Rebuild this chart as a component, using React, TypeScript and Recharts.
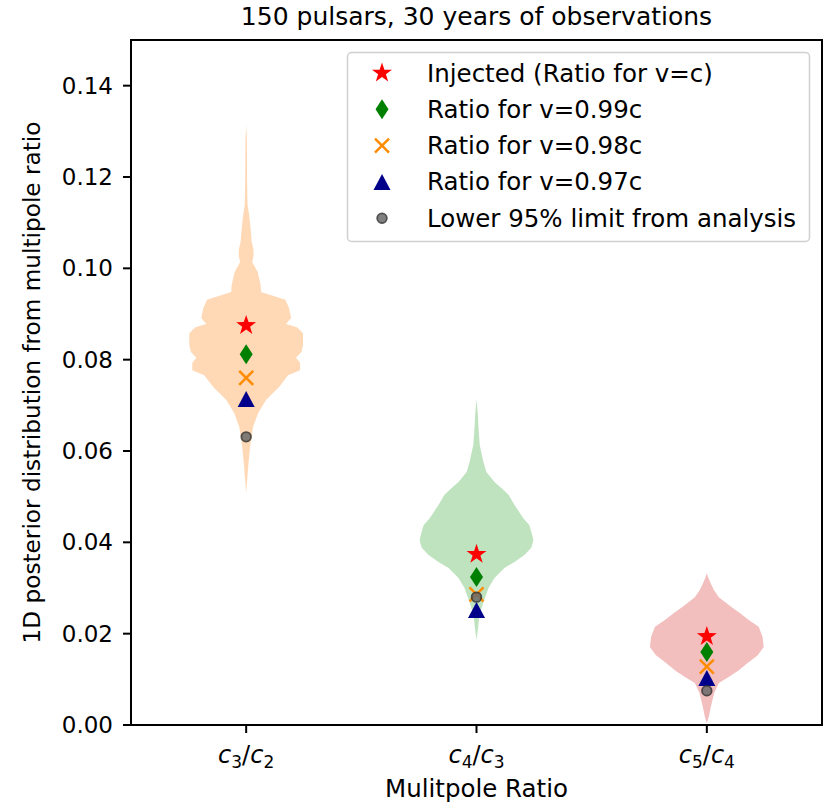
import React from 'react';
import {
  ComposedChart,
  Area,
  Scatter,
  XAxis,
  YAxis,
  ReferenceArea,
  Label
} from 'recharts';

const FONT = '"DejaVu Sans", sans-serif';

// categories (violin positions on the x axis)
const positions = [1, 2, 3];
const tickSubs = [
  ['3', '2'],
  ['4', '3'],
  ['5', '4']
];
const yTicks = [0, 0.02, 0.04, 0.06, 0.08, 0.1, 0.12, 0.14];

// marker values per ratio
const injected = [0.0875, 0.0374, 0.0194];
const ratio099 = [0.0812, 0.0324, 0.016];
const ratio098 = [0.076, 0.0286, 0.0128];
const ratio097 = [0.0714, 0.0252, 0.0103];
const lower95 = [0.0631, 0.028, 0.0075];

// violin outlines: y value and half width (x units)
const violin1Y = [0.0508, 0.0565, 0.0609, 0.0653, 0.0683, 0.0712, 0.074, 0.0766, 0.0777, 0.0793, 0.0804, 0.0817, 0.0832, 0.0858, 0.0871, 0.0878, 0.0891, 0.0913, 0.0931, 0.0948, 0.0963, 0.0992, 0.1014, 0.1027, 0.104, 0.1058, 0.1084, 0.1117, 0.1139, 0.1193, 0.1281, 0.1314];
const violin1W = [0, 0.0087, 0.017, 0.03, 0.052, 0.087, 0.143, 0.182, 0.234, 0.234, 0.216, 0.24, 0.247, 0.247, 0.22, 0.173, 0.195, 0.186, 0.17, 0.065, 0.063, 0.05, 0.026, 0.032, 0.032, 0.024, 0.02, 0.013, 0.006, 0.004, 0.003, 0];

const violin2Y = [0.0186, 0.0212, 0.0241, 0.0269, 0.03, 0.0322, 0.0344, 0.0357, 0.0372, 0.0388, 0.0405, 0.0423, 0.0438, 0.0453, 0.0482, 0.0504, 0.0519, 0.0532, 0.0554, 0.0576, 0.0613, 0.065, 0.0685, 0.0712];
const violin2W = [0, 0.0065, 0.013, 0.03, 0.052, 0.078, 0.121, 0.165, 0.208, 0.238, 0.247, 0.238, 0.229, 0.203, 0.165, 0.139, 0.108, 0.078, 0.043, 0.03, 0.014, 0.0087, 0.005, 0];

const violin3Y = [0.0004, 0.0018, 0.0039, 0.007, 0.0092, 0.0105, 0.012, 0.0136, 0.0153, 0.0171, 0.0193, 0.0215, 0.023, 0.0245, 0.0258, 0.028, 0.0296, 0.031, 0.0322, 0.0332];
const violin3W = [0, 0.0087, 0.017, 0.032, 0.052, 0.095, 0.139, 0.177, 0.221, 0.247, 0.242, 0.225, 0.182, 0.143, 0.108, 0.052, 0.03, 0.017, 0.007, 0];

const violinRows = (pos: number, ys: number[], ws: number[]) =>
  ys.map((y, i) => ({ y, band: [pos - ws[i], pos + ws[i]] }));

const violins = [
  { data: violinRows(positions[0], violin1Y, violin1W), color: '#ff7f0e' },
  { data: violinRows(positions[1], violin2Y, violin2W), color: '#2ca02c' },
  { data: violinRows(positions[2], violin3Y, violin3W), color: '#d62728' }
];

const points = (vals: number[]) => vals.map((y, i) => ({ x: positions[i], y }));

const Star = ({ cx, cy }: any) => {
  const pts: string[] = [];
  for (let i = 0; i < 10; i++) {
    const r = i % 2 === 0 ? 10.5 : 4.1;
    const a = -Math.PI / 2 + (i * Math.PI) / 5;
    pts.push(`${cx + r * Math.cos(a)},${cy + r * Math.sin(a)}`);
  }
  return <polygon points={pts.join(' ')} fill="#ff0000" />;
};

const Diamond = ({ cx, cy }: any) => (
  <polygon
    points={`${cx},${cy - 10} ${cx + 6.5},${cy} ${cx},${cy + 10} ${cx - 6.5},${cy}`}
    fill="#008000"
  />
);

const Cross = ({ cx, cy }: any) => (
  <g stroke="#ff8c00" strokeWidth={2.5}>
    <line x1={cx - 7} y1={cy - 7} x2={cx + 7} y2={cy + 7} />
    <line x1={cx - 7} y1={cy + 7} x2={cx + 7} y2={cy - 7} />
  </g>
);

const Triangle = ({ cx, cy }: any) => (
  <polygon
    points={`${cx},${cy - 8} ${cx + 8.5},${cy + 8} ${cx - 8.5},${cy + 8}`}
    fill="#00008b"
  />
);

const Dot = ({ cx, cy }: any) => (
  <circle cx={cx} cy={cy} r={4.8} fill="#6a6a6a" stroke="#333" strokeWidth={1.8} opacity={0.85} />
);

const legendItems = [
  { label: 'Injected (Ratio for v=c)', Mark: Star },
  { label: 'Ratio for v=0.99c', Mark: Diamond },
  { label: 'Ratio for v=0.98c', Mark: Cross },
  { label: 'Ratio for v=0.97c', Mark: Triangle },
  { label: 'Lower 95% limit from analysis', Mark: Dot }
];

const XTick = ({ x, y, payload }: any) => {
  const [a, b] = tickSubs[payload.value - 1];
  return (
    <text x={x} y={y + 28} textAnchor="middle" fontFamily={FONT} fontSize={24} fill="#000">
      <tspan fontStyle="italic">c</tspan>
      <tspan fontSize={17} dy={5}>{a}</tspan>
      <tspan dy={-5}>/</tspan>
      <tspan fontStyle="italic">c</tspan>
      <tspan fontSize={17} dy={5}>{b}</tspan>
    </text>
  );
};

export default function App() {
  return (
    <div style={{ position: 'absolute', left: 0, top: 0, width: 827, height: 802, background: '#fff' }}>
      <ComposedChart
        width={827}
        height={802}
        layout="vertical"
        margin={{ top: 40, right: 5, bottom: 0, left: 0 }}
      >
        <XAxis
          type="number"
          dataKey="x"
          domain={[0.5, 3.5]}
          allowDataOverflow
          ticks={positions}
          tick={<XTick />}
          height={77}
          tickSize={8}
          axisLine={{ stroke: '#000', strokeWidth: 2 }}
          tickLine={{ stroke: '#000', strokeWidth: 2 }}
        >
          <Label
            content={() => (
              <text x={476.5} y={797} textAnchor="middle" fontFamily={FONT} fontSize={24.5} fill="#000">
                Mulitpole Ratio
              </text>
            )}
          />
        </XAxis>
        <YAxis
          type="number"
          dataKey="y"
          domain={[0, 0.15]}
          reversed
          allowDataOverflow
          ticks={yTicks}
          tickFormatter={(v: number) => v.toFixed(2)}
          width={131}
          tickSize={8}
          tickMargin={10}
          tick={{ fontSize: 23, fill: '#000', fontFamily: FONT }}
          axisLine={{ stroke: '#000', strokeWidth: 2 }}
          tickLine={{ stroke: '#000', strokeWidth: 2 }}
        >
          <Label
            content={() => (
              <text
                transform="translate(40,382.5) rotate(-90)"
                textAnchor="middle"
                fontFamily={FONT}
                fontSize={23.2}
                fill="#000"
              >
                1D posterior distribution from multipole ratio
              </text>
            )}
          />
        </YAxis>
        {violins.map((v, i) => (
          <Area
            key={i}
            data={v.data}
            dataKey="band"
            type="linear"
            fill={v.color}
            fillOpacity={0.3}
            stroke="none"
            isAnimationActive={false}
            dot={false}
            activeDot={false}
          />
        ))}
        <ReferenceArea x1={0.5} x2={3.5} y1={0} y2={0.15} fill="none" stroke="#000" strokeWidth={2} />
        <Scatter data={points(injected)} shape={<Star />} isAnimationActive={false} />
        <Scatter data={points(ratio099)} shape={<Diamond />} isAnimationActive={false} />
        <Scatter data={points(ratio098)} shape={<Cross />} isAnimationActive={false} />
        <Scatter data={points(ratio097)} shape={<Triangle />} isAnimationActive={false} />
        <Scatter data={points(lower95)} shape={<Dot />} isAnimationActive={false} />
      </ComposedChart>
      <svg
        width={827}
        height={802}
        style={{ position: 'absolute', left: 0, top: 0, pointerEvents: 'none' }}
      >
        <text x={476.5} y={25} textAnchor="middle" fontFamily={FONT} fontSize={25} fill="#000">
          150 pulsars, 30 years of observations
        </text>
        <rect x={347.5} y={52.5} width={462} height={189} rx={4} fill="#fff" fillOpacity={0.8} stroke="#d0d0d0" strokeWidth={1.5} />
        {legendItems.map((it, i) => {
          const cy = 73 + i * 36.3;
          const M = it.Mark;
          return (
            <g key={i}>
              <M cx={382} cy={cy} />
              <text x={427} y={cy + 8.5} fontFamily={FONT} fontSize={24.5} fill="#000">
                {it.label}
              </text>
            </g>
          );
        })}
      </svg>
    </div>
  );
}
